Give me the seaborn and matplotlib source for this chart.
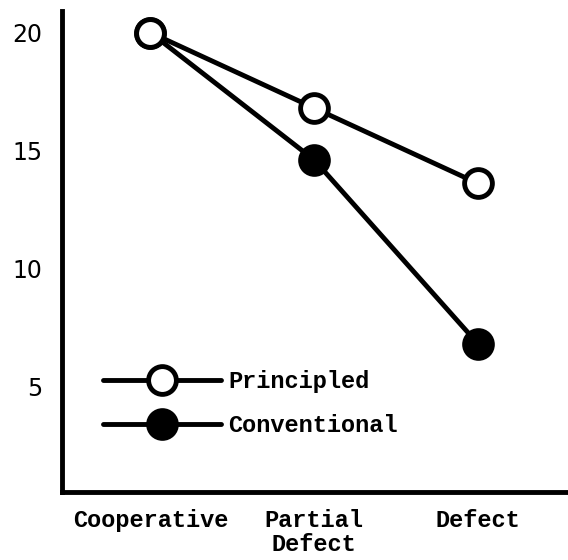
import pandas as pd
import seaborn as sns
import matplotlib.pyplot as plt
from matplotlib.lines import Line2D

conditions = ["Cooperative", "Partial\nDefect", "Defect"]
principled = [20.0, 16.8, 13.6]
conventional = [20.0, 14.6, 6.8]

df = pd.DataFrame({
    "pos": [0, 1, 2] * 2,
    "score": principled + conventional,
    "group": ["Principled"] * 3 + ["Conventional"] * 3,
})

sns.set_style("white")
plt.rcParams['font.family'] = ['Liberation Mono', 'DejaVu Sans Mono']
plt.rcParams['text.color'] = 'black'

fig = plt.figure(figsize=(5.68, 5.60), dpi=100)
ax = fig.add_axes([0.109, 0.121, 0.891, 0.86])

sns.lineplot(data=df, x="pos", y="score", hue="group", style="group",
             palette={"Principled": "black", "Conventional": "black"},
             markers={"Principled": "o", "Conventional": "o"},
             dashes=False, linewidth=3.5, ax=ax, legend=False)

# open marker for principled (drawn on top), filled for conventional
for line, face, z in zip(ax.lines, ["white", "black"], [4, 3]):
    line.set_markersize(20)
    line.set_markerfacecolor(face)
    line.set_markeredgecolor("black")
    line.set_markeredgewidth(3.5)
    line.set_zorder(z)

ax.set_xlim(-0.54, 2.55)
ax.set_ylim(0.5, 20.93)
ax.set_xticks([0, 1, 2])
ax.set_xticklabels(conditions, fontsize=17, linespacing=1.05, fontweight="bold")
ax.set_yticks([5, 10, 15, 20])
ax.set_yticklabels(["5", "10", "15", "20"], fontsize=17, family="DejaVu Sans")
ax.set_xlabel("")
ax.set_ylabel("")

for side in ["top", "right"]:
    ax.spines[side].set_visible(False)
for side in ["left", "bottom"]:
    ax.spines[side].set_linewidth(3.5)
    ax.spines[side].set_color("black")

ax.tick_params(axis="both", colors="black")
ax.tick_params(axis="x", direction="inout", length=16, width=3, pad=4)
ax.tick_params(axis="y", direction="out", length=6, width=2, pad=8)

handles = [
    Line2D([], [], color="black", lw=3.5, marker="o", markersize=20,
           markerfacecolor="white", markeredgecolor="black", markeredgewidth=3.5),
    Line2D([], [], color="black", lw=3.5, marker="o", markersize=20,
           markerfacecolor="black", markeredgecolor="black", markeredgewidth=3.5),
]
ax.legend(handles, ["Principled", "Conventional"], loc="lower left",
          bbox_to_anchor=(0.04, 0.07), frameon=False,
          prop={"size": 17, "weight": "bold"}, labelcolor="black",
          handlelength=5.0, handletextpad=0.3, labelspacing=0.9)

fig.savefig("out.png", dpi=100)
